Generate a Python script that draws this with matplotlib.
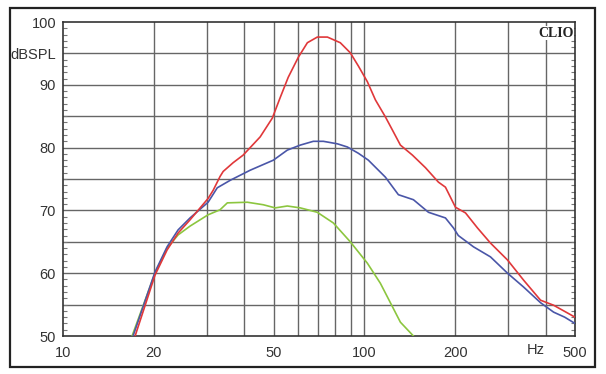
import matplotlib
matplotlib.use("Agg")
import matplotlib.pyplot as plt
from matplotlib.patches import Rectangle
from matplotlib.ticker import MultipleLocator, NullLocator

# ---- data ----
red_f = [17.35, 20.2, 22.15, 24.1, 26.4, 30.3, 31.5, 33.2, 34.0, 36.7, 39.6, 45.1, 49.5, 52.6,
         55.9, 60.4, 64.7, 69.8, 75.4, 83.2, 89.8, 95.5, 102.3, 108.8, 117.4, 123.9, 131.7,
         144.4, 159.5, 176.1, 185.8, 200.6, 216.6, 237.4, 262.1, 298.6, 337.5, 384.3, 424.6,
         500.0]
red_db = [50.0, 59.7, 63.7, 66.4, 68.5, 71.9, 73.2, 75.4, 76.2, 77.6, 78.8, 81.7, 84.7, 88.0,
          91.2, 94.4, 96.7, 97.6, 97.6, 96.7, 95.1, 93.0, 90.5, 87.6, 84.9, 82.8, 80.4,
          78.8, 76.8, 74.5, 73.7, 70.5, 69.6, 67.2, 64.8, 62.1, 58.9, 55.7, 54.9,
          53.0]

blue_f = [17.08, 20.2, 22.15, 24.1, 26.4, 30.3, 32.5, 35.9, 41.8, 49.9, 55.5, 61.3, 67.7, 73.1,
          81.4, 87.8, 95.5, 103.1, 117.4, 129.7, 145.5, 163.2, 185.8, 197.6, 205.0, 230.2,
          262.1, 298.6, 337.5, 384.3, 424.6, 462.0, 500.0]
blue_db = [50.0, 60.2, 64.2, 66.9, 68.8, 71.3, 73.6, 74.8, 76.4, 78.0, 79.6, 80.4, 81.0, 81.0,
           80.6, 80.1, 79.1, 78.0, 75.3, 72.5, 71.7, 69.7, 68.8, 67.2, 66.0, 64.2,
           62.6, 60.0, 57.8, 55.3, 53.8, 53.0, 52.0]

green_f = [16.95, 20.2, 22.15, 24.1, 26.4, 30.3, 33.2, 35.1, 40.9, 46.2, 50.6, 55.5, 61.3, 69.8,
           78.9, 89.8, 102.3, 113.0, 122.0, 131.7, 145.5]
green_db = [50.0, 60.0, 64.0, 66.1, 67.5, 69.3, 70.1, 71.2, 71.3, 70.9, 70.4, 70.7, 70.4, 69.7,
            68.0, 65.0, 61.6, 58.4, 55.3, 52.2, 50.0]

x_grid = [20, 30, 40, 50, 60, 70, 80, 90, 100, 200, 300, 400]
y_grid = [55, 60, 65, 70, 75, 80, 85, 90, 95]
x_ticks = [10, 20, 50, 100, 200, 500]
x_labels = ["10", "20", "50", "100", "200", "500"]
y_ticks = [50, 60, 70, 80, 90, 95, 100]
y_labels = ["50", "60", "70", "80", "90", "dBSPL", "100"]

# ---- figure ----
W, H = 606, 374
fig = plt.figure(figsize=(W / 100, H / 100), dpi=100)
fig.patch.set_facecolor("white")
ax = fig.add_axes([63 / W, 1 - 336 / H, (575 - 63) / W, (336 - 22) / H])

ax.set_xscale("log")
ax.set_xlim(10, 500)
ax.set_ylim(50, 100)

for xv in x_grid:
    ax.axvline(xv, color="#666666", lw=1.0, zorder=1)
for yv in y_grid:
    ax.axhline(yv, color="#666666", lw=1.0, zorder=1)

ax.plot(green_f, green_db, color="#8cc63f", lw=1.2, zorder=3)
ax.plot(blue_f, blue_db, color="#4a56a8", lw=1.2, zorder=4)
ax.plot(red_f, red_db, color="#e0383a", lw=1.2, zorder=5)

for s in ax.spines.values():
    s.set_color("#333333")
    s.set_linewidth(1.2)

ax.xaxis.set_minor_locator(NullLocator())
ax.set_xticks(x_ticks)
ax.set_xticklabels(x_labels)
ax.set_yticks(y_ticks)
ax.set_yticklabels(y_labels)
ax.yaxis.set_minor_locator(MultipleLocator(1))
ax.tick_params(axis="both", which="major", length=0, labelsize=10.5,
               labelcolor="#333333")
ax.tick_params(axis="x", which="major", pad=7)
ax.tick_params(axis="y", which="major", pad=5)
ax.tick_params(axis="y", which="minor", direction="in", length=3, width=0.8,
               color="#777777", left=True, right=True)
for lab in ax.get_xticklabels() + ax.get_yticklabels():
    lab.set_family(["Liberation Sans", "DejaVu Sans"])

ax.text(370, -0.022, "Hz", transform=ax.get_xaxis_transform(), ha="center", va="top",
        fontsize=10.5, color="#333333", family=["Liberation Sans", "DejaVu Sans"])
ax.text(0.997, 0.985, "CLIO", transform=ax.transAxes, ha="right", va="top",
        fontsize=10, fontweight="bold", color="#222222",
        family=["Liberation Serif", "DejaVu Serif"], zorder=6,
        bbox=dict(facecolor="white", edgecolor="none", pad=0.5))

fig.patches.append(Rectangle((10 / W, 1 - 367 / H), 585 / W, 359 / H,
                             transform=fig.transFigure, fill=False,
                             edgecolor="#222222", lw=1.6))

fig.savefig("out.png", dpi=100)
